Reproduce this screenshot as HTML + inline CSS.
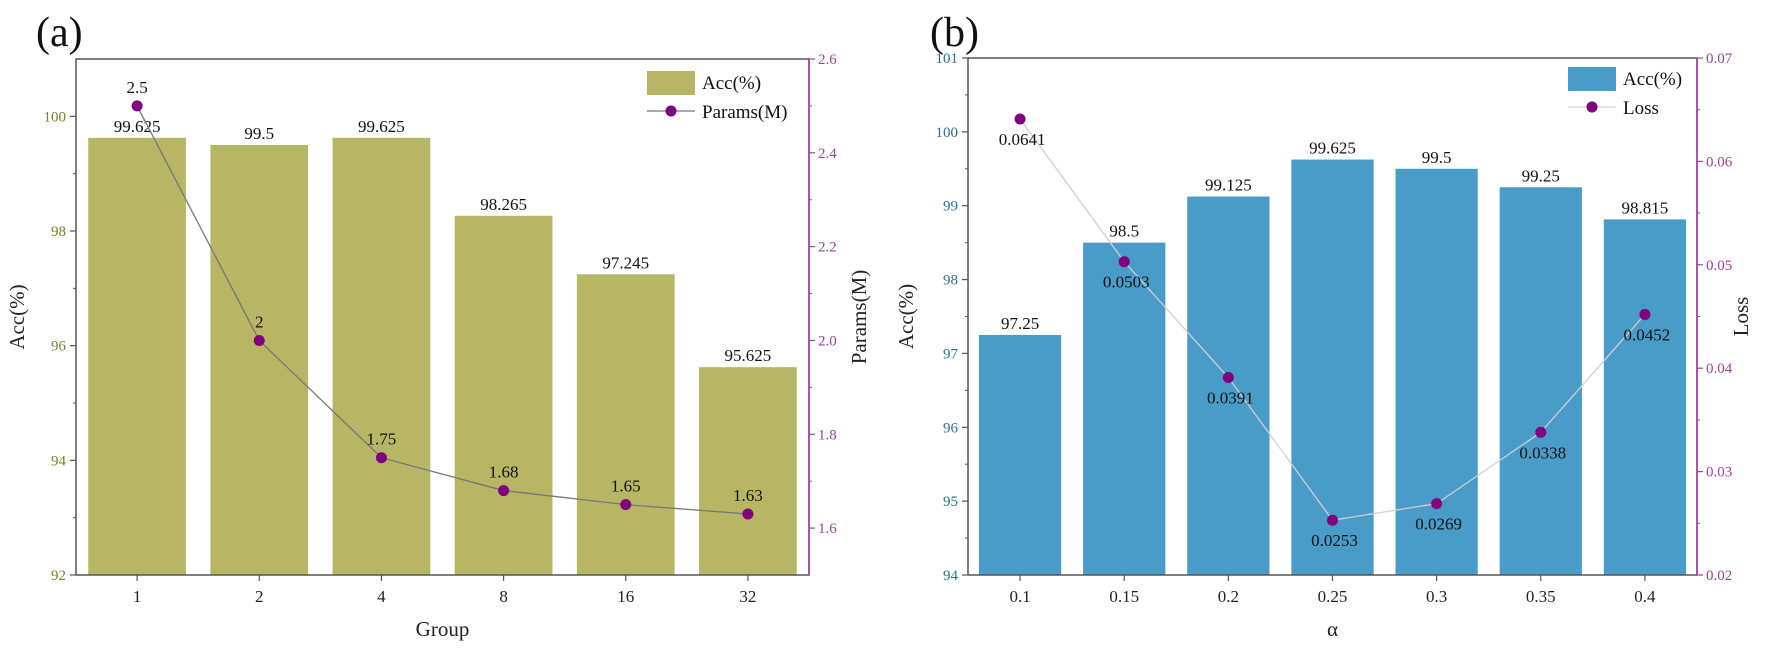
<!DOCTYPE html>
<html><head><meta charset="utf-8"><style>
html,body{margin:0;padding:0;background:#fff;}
svg{display:block;font-family:"Liberation Serif",serif;}
</style></head><body>
<svg id="c" width="1772" height="650" viewBox="0 0 1772 650"></svg>
<script>
// Panel (a) data
const groupCats = ["1","2","4","8","16","32"];
const groupAcc = [99.625, 99.5, 99.625, 98.265, 97.245, 95.625];
const groupAccLabels = ["99.625","99.5","99.625","98.265","97.245","95.625"];
const groupParams = [2.5, 2.0, 1.75, 1.68, 1.65, 1.63];
const groupParamLabels = ["2.5","2","1.75","1.68","1.65","1.63"];
const aLeftTicks = [92, 94, 96, 98, 100];
const aRightTicks = [1.6, 1.8, 2.0, 2.2, 2.4, 2.6];
const aRightTickLabels = ["1.6","1.8","2.0","2.2","2.4","2.6"];
// Panel (b) data
const alphaCats = ["0.1","0.15","0.2","0.25","0.3","0.35","0.4"];
const alphaAcc = [97.25, 98.5, 99.125, 99.625, 99.5, 99.25, 98.815];
const alphaAccLabels = ["97.25","98.5","99.125","99.625","99.5","99.25","98.815"];
const alphaLoss = [0.0641, 0.0503, 0.0391, 0.0253, 0.0269, 0.0338, 0.0452];
const alphaLossLabels = ["0.0641","0.0503","0.0391","0.0253","0.0269","0.0338","0.0452"];
const bLeftTicks = [94, 95, 96, 97, 98, 99, 100, 101];
const bRightTicks = [0.02, 0.03, 0.04, 0.05, 0.06, 0.07];
const bRightTickLabels = ["0.02","0.03","0.04","0.05","0.06","0.07"];

const svg = document.getElementById('c');
const NS = 'http://www.w3.org/2000/svg';
function mk(tag, attrs, parent){
  const e = document.createElementNS(NS, tag);
  for (const k in attrs) e.setAttribute(k, attrs[k]);
  (parent || svg).appendChild(e);
  return e;
}
function txt(s, attrs, parent){ const e = mk('text', attrs, parent); e.textContent = s; return e; }

function panel(o){
  const g = mk('g', {});
  
  
  const {x0,x1,y0,y1} = o;
  const yL = v => y1 - (v - o.lmin) / (o.lmax - o.lmin) * (y1 - y0);
  const yR = v => y1 - (v - o.rmin) / (o.rmax - o.rmin) * (y1 - y0);
  const n = o.cats.length, bw = (x1 - x0) / n;
  const xc = i => x0 + bw * (i + 0.5);
  // bars
  o.acc.forEach((v,i)=>{
    const w = bw * o.barFrac;
    const r = mk('rect', {x: xc(i)-w/2, y: yL(v), width: w, height: y1 - yL(v), fill: o.barColor}, g);
    
    
    const t = txt(o.accLabels[i], {x: xc(i), y: yL(v)-6, 'font-size': 17, 'text-anchor':'middle', fill:'#111'}, g);
    
    
  });
  // line
  const pts = o.line.map((v,i)=>xc(i)+','+yR(v)).join(' ');
  const pl = mk('polyline', {points: pts, fill:'none', stroke:o.lineColor, 'stroke-width':1.3}, g);
  
  
  o.line.forEach((v,i)=>{
    const c = mk('circle', {cx: xc(i), cy: yR(v), r: 5.5, fill:'#800080'}, g);
    
    
    const t = txt(o.lineLabels[i], {x: xc(i)+o.lblDx, y: yR(v)+o.lblDy, 'font-size': 17, 'text-anchor':'middle', fill:'#111'}, g);
    
    
  });
  // frame
  const f = mk('path', {d:`M${x0},${y1}V${y0}H${x1}V${y1}H${x0}`, fill:'none', stroke:'#555', 'stroke-width':1.5}, g);
  
  
  mk('line', {x1:x1, y1:y0, x2:x1, y2:y1, stroke:o.rColor, 'stroke-width':1.5}, g);
  // left ticks
  o.lTicks.forEach(v=>{
    mk('line', {x1:x0-6, x2:x0, y1:yL(v), y2:yL(v), stroke:'#555', 'stroke-width':1.2}, g);
    const t = txt(String(v), {x:x0-10, y:yL(v)+5, 'font-size':15, 'text-anchor':'end', fill:o.lColor}, g);
    
    
  });
  for (let k=0;k<o.lTicks.length-1;k++){
    const m = (o.lTicks[k]+o.lTicks[k+1])/2;
    mk('line', {x1:x0-3, x2:x0, y1:yL(m), y2:yL(m), stroke:'#555', 'stroke-width':1}, g);
  }
  o.rTicks.forEach((v,i)=>{
    mk('line', {x1:x1, x2:x1+6, y1:yR(v), y2:yR(v), stroke:o.rColor, 'stroke-width':1.2}, g);
    const t = txt(o.rTickLabels[i], {x:x1+9, y:yR(v)+5, 'font-size':15, fill:o.rColor}, g);
    
    
    if (i < o.rTicks.length-1){
      const m = (v + o.rTicks[i+1])/2;
      mk('line', {x1:x1, x2:x1+3, y1:yR(m), y2:yR(m), stroke:o.rColor, 'stroke-width':1}, g);
    }
  });
  o.cats.forEach((c,i)=>{
    mk('line', {x1:xc(i), x2:xc(i), y1:y1, y2:y1+6, stroke:'#555', 'stroke-width':1.2}, g);
    const t = txt(c, {x:xc(i), y:y1+27, 'font-size':17, 'text-anchor':'middle', fill:'#222'}, g);
    
    
  });
  // titles
  let t = txt(o.xTitle, {x:(x0+x1)/2, y:y1+61, 'font-size':21, 'text-anchor':'middle', fill:'#222'}, g);
   
  t = txt('Acc(%)', {x:o.lTitleX, y:(y0+y1)/2, 'font-size':21, 'text-anchor':'middle', fill:'#222', transform:`rotate(-90 ${o.lTitleX} ${(y0+y1)/2})`}, g);
   
  t = txt(o.rTitle, {x:o.rTitleX, y:(y0+y1)/2, 'font-size':21, 'text-anchor':'middle', fill:'#222', transform:`rotate(-90 ${o.rTitleX} ${(y0+y1)/2})`}, g);
   
  t = txt(o.tag, {x:o.tagX, y:46, 'font-size':42, fill:'#111'}, g);
   
  // legend
  const lg = mk('g', {}, g);
  
  
  mk('rect', {x:o.legX, y:o.legY, width:48, height:24, fill:o.barColor}, lg);
  txt('Acc(%)', {x:o.legX+55, y:o.legY+18, 'font-size':19, fill:'#111'}, lg);
  mk('line', {x1:o.legX, x2:o.legX+48, y1:o.legY+40, y2:o.legY+40, stroke:o.lineColor, 'stroke-width':1.3}, lg);
  mk('circle', {cx:o.legX+24, cy:o.legY+40, r:5.5, fill:'#800080'}, lg);
  txt(o.lineTitle, {x:o.legX+55, y:o.legY+47, 'font-size':19, fill:'#111'}, lg);
}

panel({name:'panel-a', x0:76, x1:809, y0:59, y1:575, lmin:92, lmax:101, rmin:1.5, rmax:2.6,
  cats:groupCats, acc:groupAcc, accLabels:groupAccLabels, line:groupParams, lineLabels:groupParamLabels,
  lTicks:aLeftTicks, rTicks:aRightTicks, rTickLabels:aRightTickLabels, barFrac:0.8,
  barColor:'#b6b665', lineColor:'#777', lColor:'#7d7d2e', rColor:'#a040a0',
  lblDx:0, lblDy:-13, lineName:'params', lineTitle:'Params(M)', xTitle:'Group', rTitle:'Params(M)',
  lTitleX:24, rTitleX:866, tag:'(a)', tagX:36, legX:647, legY:71});
panel({name:'panel-b', x0:968, x1:1697, y0:58, y1:575, lmin:94, lmax:101, rmin:0.02, rmax:0.07,
  cats:alphaCats, acc:alphaAcc, accLabels:alphaAccLabels, line:alphaLoss, lineLabels:alphaLossLabels,
  lTicks:bLeftTicks, rTicks:bRightTicks, rTickLabels:bRightTickLabels, barFrac:0.79,
  barColor:'#4a9cc8', lineColor:'#cfcfcf', lColor:'#2c6e98', rColor:'#a040a0',
  lblDx:2, lblDy:26, lineName:'loss', lineTitle:'Loss', xTitle:'α', rTitle:'Loss',
  lTitleX:913, rTitleX:1748, tag:'(b)', tagX:930, legX:1568, legY:67});
</script>
</body></html>
